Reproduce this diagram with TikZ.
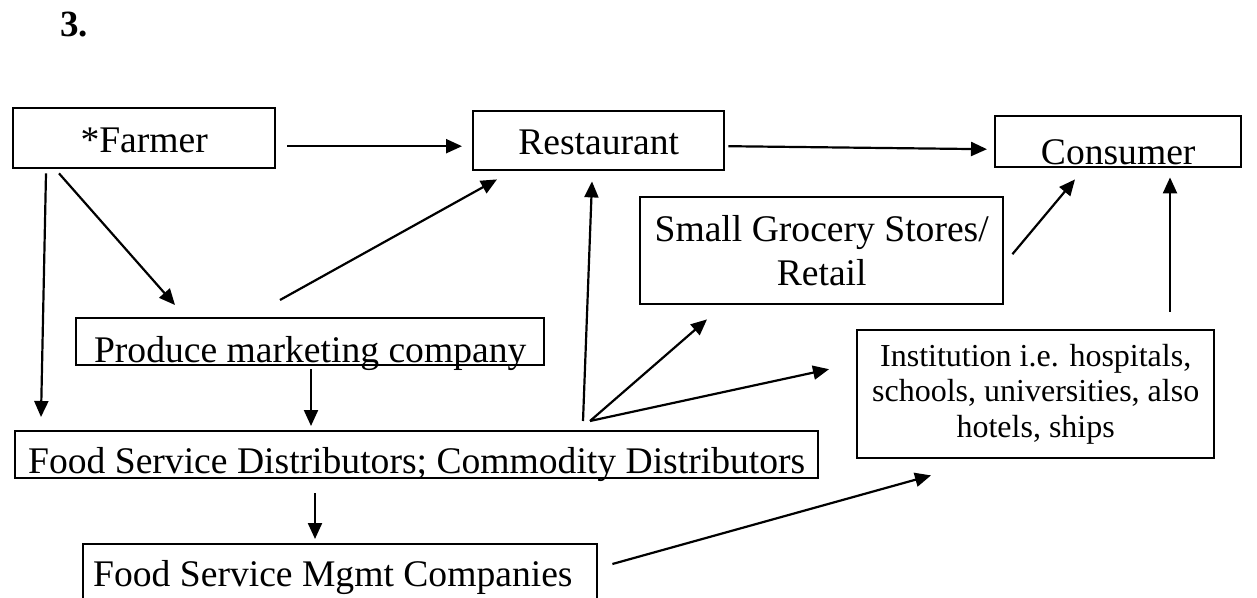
\documentclass[tikz,border=0pt]{standalone}
\usepackage{fontspec}
\setmainfont{Liberation Serif}
\usetikzlibrary{arrows.meta}

\tikzset{
  chainbox/.style={draw, line width=1.2pt, inner sep=0pt, anchor=north west,
    font=\fontsize{18.8}{22}\selectfont},
  flow/.style={line width=1.1pt, -{Triangle[length=8pt,width=7pt]}}
}

\begin{document}
\begin{tikzpicture}[x=0.5pt,y=-0.5pt]
%set diagram size to 1257 x 598
\clip (0,0) rectangle (1257,598);

%Title
\node[anchor=base west, inner sep=0pt, font=\fontsize{18.5}{22}\selectfont\bfseries] (title) at (60,37) {3.};

%Boxes
\node[chainbox, minimum width=131pt, text height=22pt, text depth=8pt] (farmer) at (12,107) {*Farmer};
\node[chainbox, minimum width=125.5pt, text height=21.5pt, text depth=8pt] (restaurant) at (472,110) {Restaurant};
\node[chainbox, minimum width=123pt, text height=24pt, text depth=1.5pt] (consumer) at (994,115) {Consumer};
\node[chainbox, minimum width=181.5pt, minimum height=53.5pt, align=center] (grocery) at (639,196) {Small Grocery Stores/\\Retail};
\node[chainbox, minimum width=234pt, text height=22pt, text depth=1.5pt] (produce) at (75,317) {Produce marketing company};
\node[chainbox, minimum width=178.5pt, minimum height=64pt, align=center,
  font=\fontsize{16}{17.75}\selectfont] (institution) at (856,329) {Institution i.e. hospitals,\\schools, universities, also\\hotels, ships};
\node[chainbox, minimum width=401.5pt, text height=21pt, text depth=2.5pt] (dist) at (14,430) {Food Service Distributors; Commodity Distributors};
\node[chainbox, minimum width=257pt, text height=21pt, text depth=17.5pt] (mgmt) at (82,543) {\makebox[257pt][l]{\hspace{5pt}Food Service Mgmt Companies}};

%Arrows from the farmer
\draw[flow] ([shift={(11,8)}]farmer.east) -- ([shift={(-10,5.5)}]restaurant.west);
\draw[flow] ([shift={(34,4)}]farmer.south west) -- ([shift={(27,-13)}]dist.north west);
\draw[flow] ([shift={(47,4)}]farmer.south west) -- ([shift={(100,-12)}]produce.north west);

%Arrows from the produce marketing company
\draw[flow] ([shift={(205,-17)}]produce.north west) -- ([shift={(25,8)}]restaurant.south west);
\draw[flow] ([shift={(236,3)}]produce.south west) -- ([shift={(297,-4)}]dist.north west);

%Arrows from the distributors
\draw[flow] ([shift={(569,-9)}]dist.north west) -- ([shift={(120,10)}]restaurant.south west);
\draw[flow] ([shift={(576,-9)}]dist.north west) -- ([shift={(68,14)}]grocery.south west);
\draw[flow] ([shift={(576,-9)}]dist.north west) -- ([shift={(-27,-25)}]institution.west);
\draw[flow] ([shift={(301,14)}]dist.south west) -- ([shift={(233,-4)}]mgmt.north west);

%Arrows to the consumer
\draw[flow] ([shift={(3,5.5)}]restaurant.east) -- ([shift={(-7,7.5)}]consumer.west);
\draw[flow] ([shift={(8,3.5)}]grocery.east) -- ([shift={(81,11)}]consumer.south west);
\draw[flow] ([shift={(314,-17)}]institution.north west) -- ([shift={(176,9)}]consumer.south west);

%Arrow from the mgmt companies
\draw[flow] ([shift={(14,21)}]mgmt.north east) -- ([shift={(75,16)}]institution.south west);
\end{tikzpicture}
\end{document}
